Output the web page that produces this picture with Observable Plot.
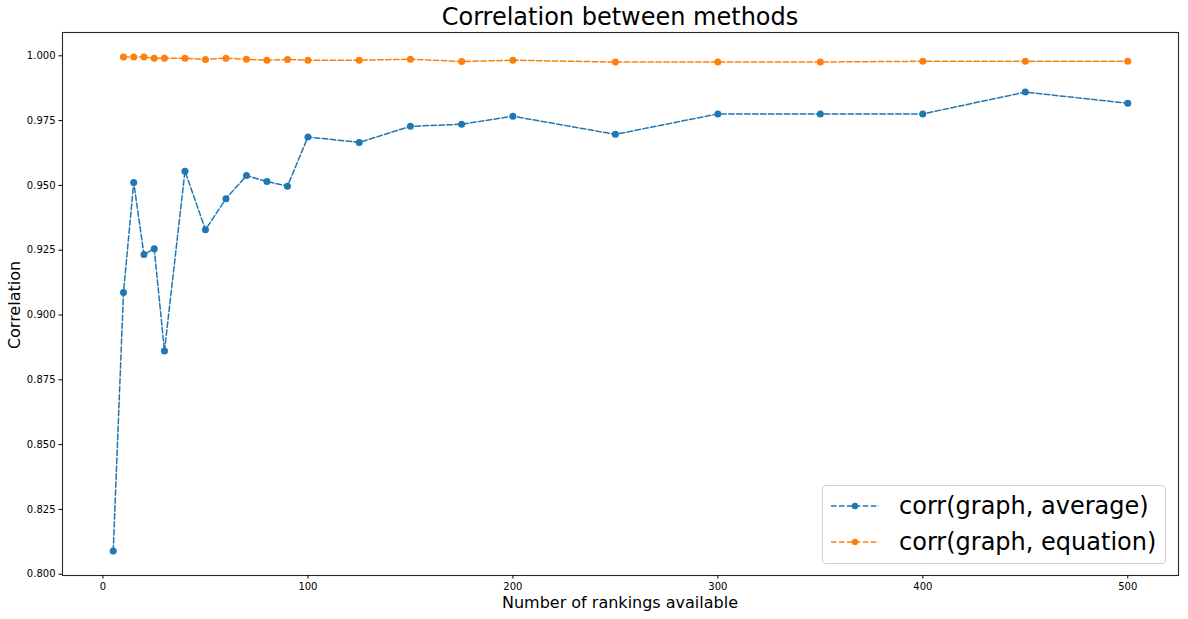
<!DOCTYPE html>
<html>
<head>
<meta charset="utf-8">
<script src="https://cdn.jsdelivr.net/npm/d3@7"></script>
<script src="https://cdn.jsdelivr.net/npm/@observablehq/plot@0.6"></script>
<style>
  body { margin: 0; background: #fff; font-family: "DejaVu Sans", sans-serif; }
  #wrap { position: relative; width: 1188px; height: 619px; overflow: hidden; }
  #wrap svg.plot { position: absolute; left: 0; top: 0; }
  .title { position: absolute; top: 3px; left: 62px; width: 1116px; text-align: center; font-size: 24px; color: #000; }
  .xlabel { position: absolute; top: 593px; left: 62px; width: 1116px; text-align: center; font-size: 16px; color: #000; }
  .ylabel { position: absolute; left: 14px; top: 305px; font-size: 16px; color: #000; transform: translate(-50%, -50%) rotate(-90deg); white-space: nowrap; }
  .legend { position: absolute; left: 822px; top: 485px; width: 344px; height: 79px; border: 1px solid #d0d0d0; border-radius: 4px; background: rgba(255,255,255,0.8); box-sizing: border-box; }
  .legend .row { position: absolute; left: 0; height: 30px; display: flex; align-items: center; font-size: 24px; color: #000; white-space: nowrap; }
  .legend svg { margin-left: 8px; margin-right: 20px; }
</style>
</head>
<body>
<div id="wrap">
  <div class="title">Correlation between methods</div>
  <div class="xlabel">Number of rankings available</div>
  <div class="ylabel">Correlation</div>
</div>
<script>
const seriesNames = ["corr(graph, average)", "corr(graph, equation)"];
const colors = ["#1f77b4", "#ff7f0e"];

const avgX = [5, 10, 15, 20, 25, 30, 40, 50, 60, 70, 80, 90, 100, 125, 150, 175, 200, 250, 300, 350, 400, 450, 500];
const avgY = [0.809, 0.9087, 0.9511, 0.9233, 0.9256, 0.8861, 0.9555, 0.9329, 0.9449, 0.9538, 0.9515, 0.9497, 0.9687, 0.9666, 0.9728, 0.9736, 0.9767, 0.9697, 0.9776, 0.9776, 0.9776, 0.9860, 0.9817];

const eqX = [10, 15, 20, 25, 30, 40, 50, 60, 70, 80, 90, 100, 125, 150, 175, 200, 250, 300, 350, 400, 450, 500];
const eqY = [0.9995, 0.9995, 0.9995, 0.9991, 0.9991, 0.9991, 0.9986, 0.9991, 0.9987, 0.9983, 0.9986, 0.9983, 0.9983, 0.9987, 0.9978, 0.9983, 0.9976, 0.9976, 0.9976, 0.9979, 0.9979, 0.9979];

const xTicks = [0, 100, 200, 300, 400, 500];
const yTicks = [0.800, 0.825, 0.850, 0.875, 0.900, 0.925, 0.950, 0.975, 1.000];

const data = [
  ...avgX.map((x, i) => ({x, y: avgY[i], s: seriesNames[0]})),
  ...eqX.map((x, i) => ({x, y: eqY[i], s: seriesNames[1]}))
];

const chart = Plot.plot({
  width: 1188,
  height: 619,
  marginLeft: 62,
  marginRight: 10,
  marginTop: 32,
  marginBottom: 44,
  style: { fontFamily: "DejaVu Sans, sans-serif", fontSize: "10px", color: "#000", background: "transparent" },
  x: { domain: [-19.75, 524.75] },
  y: { domain: [0.7995, 1.0090] },
  color: { domain: seriesNames, range: colors },
  marks: [
    Plot.line(data, { x: "x", y: "y", z: "s", stroke: "s", strokeWidth: 1.5, strokeDasharray: "5.55,2.4" }),
    Plot.dot(data, { x: "x", y: "y", fill: "s", r: 3.5, stroke: null }),
    Plot.frame({ stroke: "#262626", strokeWidth: 1.1 }),
    Plot.axisX({ ticks: xTicks, tickSize: 3.5, tickPadding: 3.5, label: null, fontSize: 10, stroke: "#000" }),
    Plot.axisY({ ticks: yTicks, tickSize: 3.5, tickPadding: 3.5, label: null, tickFormat: d3.format(".3f"), fontSize: 10, stroke: "#000" })
  ]
});
chart.classList.add("plot");
const wrap = document.getElementById("wrap");
wrap.insertBefore(chart, wrap.firstChild);

// legend
const leg = document.createElement("div");
leg.className = "legend";
seriesNames.forEach((name, i) => {
  const row = document.createElement("div");
  row.className = "row";
  row.style.top = (5 + i * 36) + "px";
  row.innerHTML = `<svg width="48" height="12"><line x1="0" x2="48" y1="6" y2="6" stroke="${colors[i]}" stroke-width="1.5" stroke-dasharray="5.55,2.4"/><circle cx="24" cy="6" r="3.2" fill="${colors[i]}"/></svg><span>${name}</span>`;
  leg.appendChild(row);
});
wrap.appendChild(leg);
</script>
</body>
</html>
